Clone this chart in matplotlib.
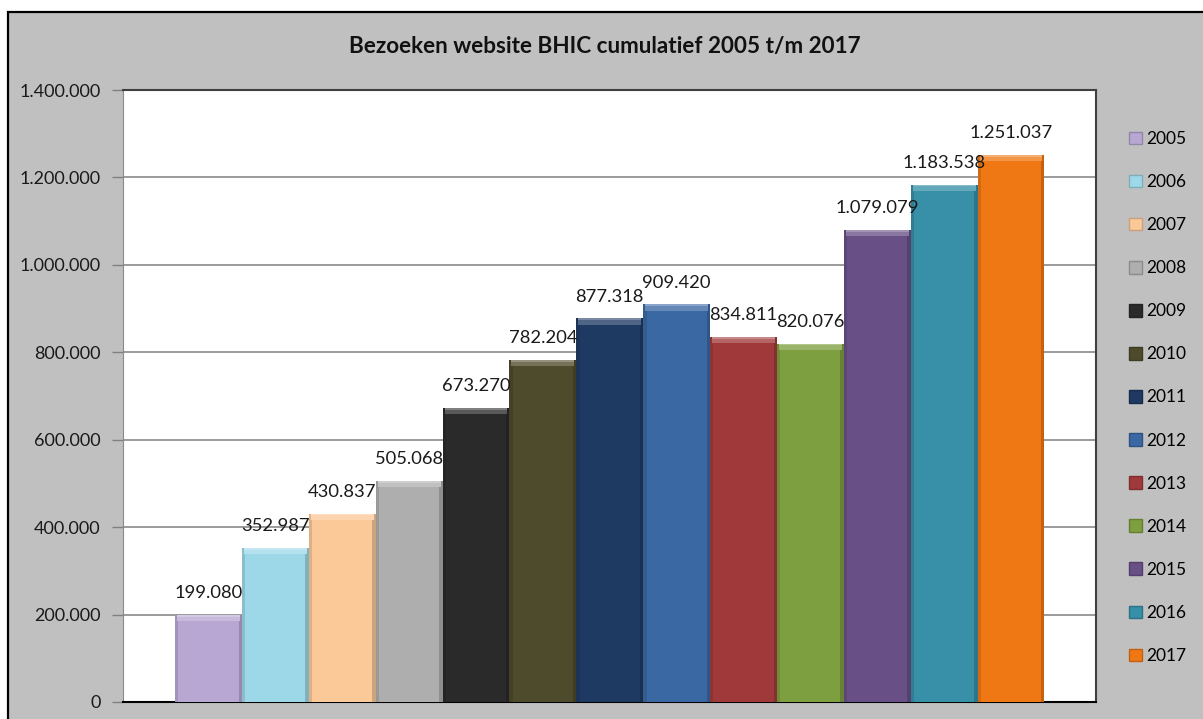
import matplotlib
matplotlib.use("Agg")
import matplotlib.pyplot as plt
from matplotlib.patches import Rectangle
from matplotlib.colors import to_rgb
import numpy as np

# data uit de grafiek
jaren = ["2005", "2006", "2007", "2008", "2009", "2010", "2011",
         "2012", "2013", "2014", "2015", "2016", "2017"]
bezoeken = [199080, 352987, 430837, 505068, 673270, 782204, 877318,
            909420, 834811, 820076, 1079079, 1183538, 1251037]
kleuren = ["#B8A7D3", "#9DD8E8", "#FBC898", "#AEAEAE", "#2A2A2A", "#4E4A2C",
           "#1E3A62", "#3A68A3", "#A03A3A", "#7E9F3F", "#684F86", "#378FA8",
           "#F07814"]
y_ticks = [0, 200000, 400000, 600000, 800000, 1000000, 1200000, 1400000]
titel = "Bezoeken website BHIC cumulatief 2005 t/m 2017"

plt.rcParams["font.family"] = ["Lato", "DejaVu Sans"]


def punt_format(v):
    # 1234567 -> 1.234.567
    return f"{int(v):,}".replace(",", ".")


def mix(kleur, met, f):
    c = np.array(to_rgb(kleur))
    m = np.array(to_rgb(met))
    return tuple(c * (1 - f) + m * f)


fig = plt.figure(figsize=(12.03, 7.19), dpi=100, facecolor="white")

# grijze achtergrond met zwarte rand links en boven
fig.patches.append(Rectangle((7.5 / 1203, -0.01), 1.0, (719 - 11.5) / 719 + 0.01,
                             transform=fig.transFigure, facecolor="#C0C0C0",
                             edgecolor="black", linewidth=1.6, zorder=-5))

ax = fig.add_axes([123 / 1203, 17 / 719, 973 / 1203, 612 / 719])
ax.set_zorder(1)
ax.set_facecolor("white")

x = np.arange(len(jaren))
breedte = 1.0
bars = ax.bar(x, bezoeken, width=breedte, color=kleuren, zorder=3, label="_")

# bevel effect: lichte bovenrand en iets donkere zijkanten
rand = 14000
for xi, v, k in zip(x, bezoeken, kleuren):
    ax.bar(xi - breedte / 2 + 0.025, v, width=0.05, color=mix(k, "black", 0.12), zorder=4)
    ax.bar(xi + breedte / 2 - 0.025, v, width=0.05, color=mix(k, "black", 0.18), zorder=4)
    ax.bar(xi, rand, bottom=v - rand, width=breedte - 0.06, color=mix(k, "white", 0.22), zorder=5)
    ax.bar(xi, rand * 0.3, bottom=v - rand * 0.3, width=breedte - 0.06,
           color=mix(k, "white", 0.4), zorder=5)
    ax.annotate(punt_format(v), (xi, v), xytext=(0, 10), textcoords="offset points",
                ha="center", va="bottom", fontsize=13.2, color="#1a1a1a", zorder=6)

ax.set_xlim(-1.277, 13.27)
ax.set_ylim(0, 1400000)
ax.set_yticks(y_ticks)
ax.set_yticklabels([punt_format(t) for t in y_ticks])
ax.set_xticks([])
ax.tick_params(axis="y", length=8, width=1, color="#808080", pad=8, labelsize=13,
               labelcolor="#1a1a1a")
ax.yaxis.grid(True, color="#8a8a8a", linewidth=1.2, zorder=1)
ax.set_axisbelow(True)

ax.spines["left"].set_color("#8a8a8a")
ax.spines["bottom"].set_color("black")
ax.spines["bottom"].set_linewidth(1.5)
ax.spines["top"].set_color("#404040")
ax.spines["top"].set_linewidth(1.5)
ax.spines["right"].set_color("#404040")
ax.spines["right"].set_linewidth(1.5)

fig.text(605 / 1203, 1 - 46 / 719, titel, ha="center", va="center",
         fontsize=16.2, fontweight="bold", color="#111111")

# legenda
handles = [Rectangle((0, 0), 1, 1, facecolor=k, edgecolor=mix(k, "black", 0.2)) for k in kleuren]
fig.legend(handles, jaren, loc="upper left", bbox_to_anchor=(1129 / 1203, 1 - 131 / 719),
           frameon=False, fontsize=12.5, handlelength=0.75, handleheight=0.75,
           handletextpad=0.25, labelspacing=1.56, borderaxespad=0, borderpad=0)

fig.savefig("out.png", dpi=100, facecolor=fig.get_facecolor())
